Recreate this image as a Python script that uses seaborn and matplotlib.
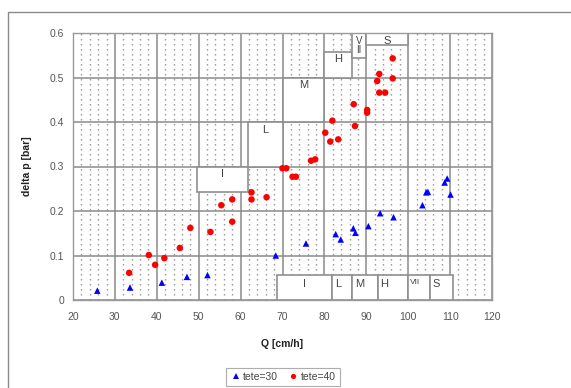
import numpy as np
import pandas as pd
import seaborn as sns
import matplotlib.pyplot as plt
from matplotlib.patches import Rectangle
from matplotlib.ticker import MultipleLocator

# tete=30 (blue triangles)
q30 = [25.8, 33.6, 41.2, 47.2, 52.1, 68.4, 75.6, 82.7, 83.9, 86.9, 87.4, 90.5, 93.3, 96.5,
       103.4, 104.3, 104.7, 108.7, 109.3, 110.1]
dp30 = [0.021, 0.028, 0.039, 0.052, 0.056, 0.100, 0.127, 0.148, 0.136, 0.161, 0.151, 0.166, 0.195, 0.186,
        0.213, 0.242, 0.243, 0.264, 0.273, 0.237]

# tete=40 (red circles)
q40 = [33.4, 38.1, 39.6, 41.8, 45.5, 48.0, 52.8, 55.4, 58.0, 58.0, 62.6, 62.6, 66.2, 70.0, 70.9,
       72.4, 73.2, 76.8, 77.8, 80.2, 81.4, 81.9, 83.3, 87.0, 87.3, 90.2, 90.2, 92.6, 93.1, 93.1,
       94.5, 96.3, 96.3]
dp40 = [0.061, 0.101, 0.079, 0.094, 0.117, 0.162, 0.153, 0.213, 0.226, 0.176, 0.242, 0.226, 0.231, 0.296, 0.296,
        0.277, 0.277, 0.313, 0.316, 0.376, 0.356, 0.403, 0.361, 0.440, 0.391, 0.427, 0.421, 0.492, 0.508, 0.466,
        0.466, 0.543, 0.498]

# axis ticks
xticks = [20, 30, 40, 50, 60, 70, 80, 90, 100, 110, 120]
yticks = [0, 0.1, 0.2, 0.3, 0.4, 0.5, 0.6]
ytick_labels = ['0', '0.1', '0.2', '0.3', '0.4', '0.5', '0.6']

# regime boxes (upper row belongs to tete=40, lower row to tete=30)
upper_labels = ['I', 'L', 'M', 'H', 'V\nII', 'S']
upper_x0 = [49.6, 61.8, 70.0, 80.0, 86.6, 89.9]
upper_x1 = [61.8, 70.0, 80.0, 86.6, 89.9, 100.0]
upper_y0 = [0.243, 0.30, 0.40, 0.50, 0.543, 0.573]
upper_y1 = [0.30, 0.40, 0.50, 0.558, 0.60, 0.60]

lower_labels = ['I', 'L', 'M', 'H', 'VII', 'S']
lower_x0 = [68.8, 81.9, 86.7, 92.7, 99.9, 105.1]
lower_x1 = [81.9, 86.7, 92.7, 99.9, 105.1, 110.6]
lower_top = 0.056

df = pd.concat([
    pd.DataFrame({'Q': q30, 'dp': dp30, 'serie': 'tete=30'}),
    pd.DataFrame({'Q': q40, 'dp': dp40, 'serie': 'tete=40'}),
])

sns.set_style('white')
plt.rcParams['font.family'] = ['Liberation Sans', 'DejaVu Sans']

fig = plt.figure(figsize=(5.71, 3.88), dpi=100)
ax = fig.add_axes([73 / 571, 1 - 300 / 388, 419 / 571, 267 / 388])

sns.scatterplot(data=df, x='Q', y='dp', hue='serie', style='serie',
                palette={'tete=30': '#0000ff', 'tete=40': '#ff0000'},
                markers={'tete=30': '^', 'tete=40': 'o'},
                s=22, linewidth=0, zorder=4, ax=ax)

ax.set_xlim(20, 120)
ax.set_ylim(0, 0.6)
ax.set_xticks(xticks)
ax.set_xticklabels([str(v) for v in xticks])
ax.set_yticks(yticks)
ax.set_yticklabels(ytick_labels)
ax.xaxis.set_minor_locator(MultipleLocator(2))
ax.grid(which='major', color='#8a8a8a', lw=1.1, zorder=0)
ax.grid(which='minor', axis='x', color='#909090', lw=1.0, linestyle=(0, (1, 2.6)), zorder=0)
ax.set_axisbelow(True)
for sp in ax.spines.values():
    sp.set_color('#9a9a9a')
    sp.set_linewidth(1.0)
ax.tick_params(axis='both', which='major', labelsize=7.5, colors='#555555', length=3, width=0.8)
ax.tick_params(axis='both', which='minor', length=0)
ax.tick_params(axis='x', pad=6)

# upper boxes
for lbl, x0, x1, y0, y1 in zip(upper_labels, upper_x0, upper_x1, upper_y0, upper_y1):
    ax.add_patch(Rectangle((x0, y0), x1 - x0, y1 - y0, facecolor='white',
                           edgecolor='#8f8f8f', lw=1.2, zorder=2))
    fs = 7 if '\n' in lbl else 8
    ax.text((x0 + x1) / 2, y1 - 0.006, lbl, ha='center', va='top', fontsize=fs,
            color='#444444', linespacing=0.95, zorder=3)

# lower boxes
for lbl, x0, x1 in zip(lower_labels, lower_x0, lower_x1):
    ax.add_patch(Rectangle((x0, 0), x1 - x0, lower_top, facecolor='white',
                           edgecolor='#8f8f8f', lw=1.2, zorder=2))
    if lbl == 'I':
        ax.text((x0 + x1) / 2, lower_top - 0.008, lbl, ha='center', va='top', fontsize=8,
                color='#444444', zorder=3)
    else:
        ax.text(x0 + 0.6, lower_top - 0.008, lbl, ha='left', va='top',
                fontsize=6 if lbl == 'VII' else 8, color='#444444', zorder=3)

ax.set_xlabel('Q [cm/h]', fontsize=7.5, fontweight='bold', color='#222222')
ax.set_ylabel('delta p [bar]', fontsize=7.5, fontweight='bold', color='#222222')
ax.xaxis.set_label_coords(0.5, -0.146)
ax.yaxis.set_label_coords(-0.098, 0.5)

handles, labels = ax.get_legend_handles_labels()
ax.legend_.remove()
leg = fig.legend(handles, labels, loc='center', bbox_to_anchor=(283 / 571, 1 - 377 / 388),
                 ncol=2, fontsize=7.5, frameon=True, fancybox=False, handletextpad=0.2,
                 columnspacing=1.0, borderpad=0.4, handlelength=1.0, markerscale=0.8)
leg.get_frame().set_edgecolor('#999999')
leg.get_frame().set_linewidth(0.8)
for t in leg.get_texts():
    t.set_color('#444444')

# outer chart frame
fig.add_artist(Rectangle((8 / 571, -0.1), 1.2, 1.1 - 12 / 388, transform=fig.transFigure,
                         fill=False, edgecolor='#8a8a8a', lw=1.0))

fig.savefig('out.png', dpi=100)
